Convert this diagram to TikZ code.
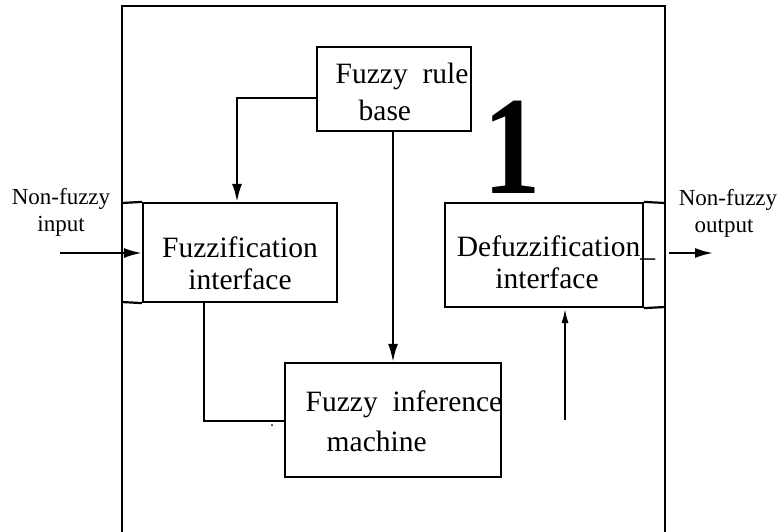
\documentclass[tikz,border=0pt]{standalone}
\usepackage{fontspec}
\setmainfont{Liberation Serif}
\usetikzlibrary{arrows.meta}
\tikzset{>={Latex[length=18pt,width=10pt]}}
\tikzstyle{block}=[draw,line width=2.2pt,inner sep=0pt]
\tikzstyle{boxtext}=[font=\fontsize{29.5}{32}\selectfont,align=left,inner sep=0pt]
\tikzstyle{sidetext}=[font=\fontsize{23}{27}\selectfont,align=center,inner sep=0pt]

\begin{document}
\begin{tikzpicture}[x=1pt,y=-1pt,line width=2.2pt]
  \useasboundingbox (0,0) rectangle (781,532);
  \def\FT{6}    % frame top
  \def\FL{122}  % frame left
  \def\FR{665}  % frame right

  % FRAME
  \draw (\FL,532) -- (\FL,\FT) -- (\FR,\FT) -- (\FR,532);

  % BLOCKS
  \node[block,minimum width=154pt,minimum height=84pt]  (rule)   at (394,89)  {};
  \node[block,minimum width=194pt,minimum height=99pt]  (fuzz)   at (240,252.5) {};
  \node[block,minimum width=198pt,minimum height=104pt] (defuzz) at (544,255) {};
  \node[block,minimum width=216pt,minimum height=114pt] (infer)  at (393,420) {};

  % side strips of the interfaces
  \draw (fuzz.north west) -- (\FL,203) (fuzz.south west) -- (\FL,302);
  \draw (defuzz.north east) -- (\FR,203) (defuzz.south east) -- (\FR,307);

  % TEXTS
  \node[boxtext,font=\fontsize{29.5}{37}\selectfont] (ruletxt) at (402,92) {Fuzzy\ \ rule\\\hspace{23pt}base};
  \node[boxtext,align=center] (fuzztxt) at (240,263) {Fuzzification\\interface};
  \node[boxtext,align=center] (defuzztxt) at (556,262) {Defuzzification\_\\\hspace{-18pt}interface};
  \node[boxtext,font=\fontsize{29.5}{40}\selectfont] (infertxt) at (404,421) {Fuzzy\ \ inference\\\hspace{21pt}machine};
  \node[sidetext] (intxt)    at (61,212)  {Non-fuzzy\\input};
  \node[sidetext] (outtxt)   at (728,213) {Non-fuzzy\\\hspace{-8pt}output};
  \node[font=\fontsize{140}{140}\selectfont\bfseries,inner sep=0pt,xscale=0.82] (one) at (512,147) {1};

  % CONNECTORS
  \coordinate (in)   at (60,253);
  \coordinate (out)  at (713,253);
  \coordinate (feed) at (565,420);
  \draw[->] (in) -- (fuzz.west |- in);
  \draw[->] (\FR+4,253) -- (out);
  \draw[->] (rule.west |- 0,98) -| (237,0 |- fuzz.north);
  \draw[->] (rule.south -| 393,0) -- (infer.north -| 393,0);
  \draw (fuzz.south -| 204,0) |- (infer.west |- 0,421);
  \draw[-{Latex[length=15pt,width=7pt]}] (feed) -- (defuzz.south -| feed);
  \fill (272,425) circle (1pt);
\end{tikzpicture}
\end{document}
